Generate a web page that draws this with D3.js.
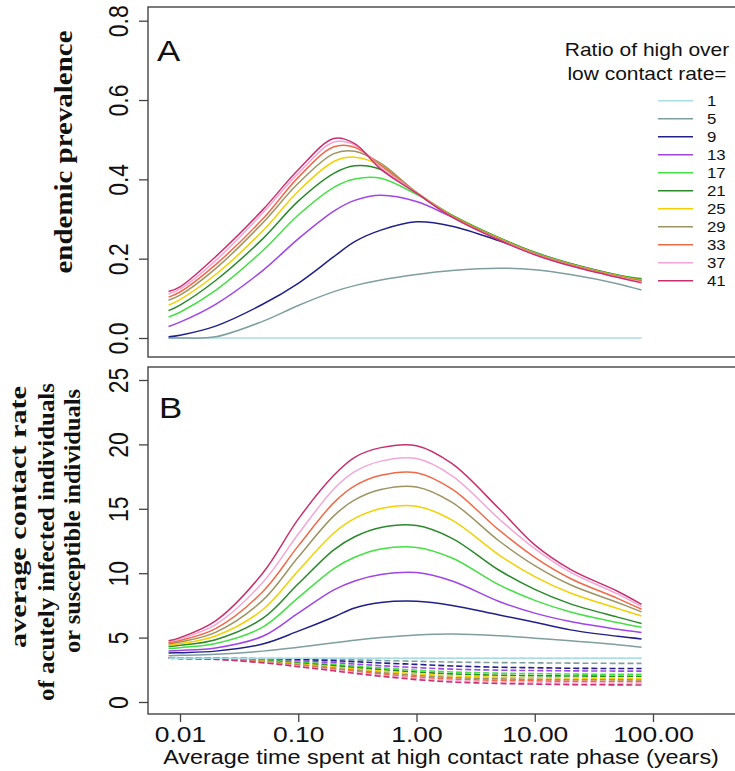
<!DOCTYPE html>
<html>
<head>
<meta charset="utf-8">
<script src="https://cdn.jsdelivr.net/npm/d3@7"></script>
<style>
  body { margin: 0; background: #fff; }
  text { font-family: "Liberation Sans", Arial, sans-serif; fill: #111; }
  .serif { font-family: "Liberation Serif", "Times New Roman", serif; font-weight: bold; }
</style>
</head>
<body>
<div id="chart"></div>
<script>
// time spent in the high contact phase (years)
const times = [0.008, 0.01, 0.02, 0.05, 0.1, 0.2, 0.3, 0.5, 1, 2, 5, 10, 20, 50, 80]
const ratios = [1, 5, 9, 13, 17, 21, 25, 29, 33, 37, 41]

// panel A: endemic prevalence, one row per ratio
const prevalence = [
  [0, 0, 0, 0, 0, 0, 0, 0, 0, 0, 0, 0, 0, 0, 0],
  [0, 0, 0.003, 0.042, 0.082, 0.117, 0.132, 0.146, 0.16, 0.17, 0.176, 0.172, 0.16, 0.137, 0.121],
  [0.003, 0.007, 0.03, 0.085, 0.138, 0.205, 0.243, 0.272, 0.293, 0.282, 0.245, 0.212, 0.186, 0.157, 0.144],
  [0.029, 0.04, 0.085, 0.17, 0.25, 0.32, 0.347, 0.36, 0.344, 0.305, 0.252, 0.216, 0.188, 0.159, 0.147],
  [0.053, 0.065, 0.12, 0.22, 0.31, 0.38, 0.401, 0.403, 0.362, 0.31, 0.253, 0.216, 0.188, 0.159, 0.15],
  [0.069, 0.083, 0.145, 0.25, 0.345, 0.415, 0.434, 0.425, 0.366, 0.309, 0.252, 0.215, 0.187, 0.158, 0.148],
  [0.083, 0.097, 0.16, 0.27, 0.37, 0.445, 0.456, 0.435, 0.367, 0.308, 0.251, 0.214, 0.186, 0.157, 0.146],
  [0.095, 0.108, 0.175, 0.29, 0.39, 0.465, 0.471, 0.44, 0.367, 0.307, 0.25, 0.213, 0.185, 0.156, 0.145],
  [0.103, 0.116, 0.185, 0.30, 0.405, 0.482, 0.481, 0.435, 0.366, 0.306, 0.249, 0.212, 0.184, 0.155, 0.143],
  [0.111, 0.123, 0.195, 0.315, 0.415, 0.494, 0.487, 0.43, 0.366, 0.305, 0.248, 0.211, 0.183, 0.154, 0.141],
  [0.117, 0.129, 0.205, 0.323, 0.424, 0.503, 0.49, 0.425, 0.365, 0.305, 0.247, 0.21, 0.182, 0.153, 0.139],
]

// panel B solid: acutely infected individuals
const contactInfected = [
  [3.4, 3.4, 3.4, 3.4, 3.4, 3.4, 3.4, 3.4, 3.4, 3.4, 3.4, 3.4, 3.4, 3.4, 3.4],
  [3.6, 3.62, 3.7, 3.95, 4.25, 4.6, 4.8, 5.0, 5.2, 5.28, 5.15, 4.95, 4.75, 4.45, 4.25],
  [3.8, 3.83, 3.95, 4.5, 5.5, 6.6, 7.3, 7.72, 7.82, 7.5, 6.75, 6.2, 5.6, 5.1, 4.9],
  [3.95, 4.0, 4.2, 5.1, 6.9, 8.7, 9.4, 9.9, 10.05, 9.4, 7.8, 6.9, 6.25, 5.65, 5.4],
  [4.15, 4.22, 4.54, 5.81, 8.1, 10.36, 11.24, 11.88, 12.0, 11.18, 9.09, 7.89, 6.99, 6.17, 5.8],
  [4.3, 4.4, 4.84, 6.49, 9.18, 11.81, 12.83, 13.55, 13.7, 12.71, 10.23, 8.74, 7.62, 6.59, 6.1],
  [4.4, 4.52, 5.12, 7.16, 10.19, 13.12, 14.25, 15.02, 15.2, 14.12, 11.41, 9.73, 8.46, 7.27, 6.68],
  [4.5, 4.66, 5.41, 7.89, 11.25, 14.45, 15.69, 16.5, 16.7, 15.5, 12.5, 10.59, 9.1, 7.73, 7.0],
  [4.6, 4.78, 5.7, 8.56, 12.12, 15.48, 16.78, 17.6, 17.8, 16.52, 13.34, 11.23, 9.59, 8.05, 7.2],
  [4.7, 4.91, 6.01, 9.27, 13.04, 16.54, 17.88, 18.7, 18.9, 17.56, 14.21, 11.91, 10.08, 8.39, 7.4],
  [4.75, 5.0, 6.3, 10.0, 14.2, 17.6, 19.0, 19.75, 19.9, 18.5, 15.0, 12.2, 10.3, 8.6, 7.58],
]

// panel B dashed: susceptible individuals
const contactSusceptible = [
  [3.4, 3.4, 3.4, 3.4, 3.4, 3.4, 3.4, 3.4, 3.4, 3.4, 3.4, 3.4, 3.4, 3.4, 3.4],
  [3.4, 3.4, 3.4, 3.38, 3.35, 3.3, 3.27, 3.22, 3.16, 3.1, 3.06, 3.04, 3.02, 3.0, 3.0],
  [3.4, 3.4, 3.39, 3.35, 3.3, 3.2, 3.13, 3.03, 2.92, 2.8, 2.7, 2.66, 2.62, 2.6, 2.6],
  [3.4, 3.4, 3.38, 3.3, 3.2, 3.05, 2.95, 2.82, 2.67, 2.55, 2.47, 2.44, 2.42, 2.4, 2.4],
  [3.4, 3.4, 3.37, 3.26, 3.1, 2.92, 2.8, 2.65, 2.47, 2.33, 2.24, 2.2, 2.17, 2.15, 2.15],
  [3.4, 3.39, 3.36, 3.22, 3.03, 2.82, 2.68, 2.52, 2.33, 2.18, 2.08, 2.04, 2.02, 2.0, 2.0],
  [3.4, 3.39, 3.35, 3.18, 2.96, 2.72, 2.57, 2.4, 2.19, 2.03, 1.93, 1.89, 1.86, 1.85, 1.84],
  [3.4, 3.39, 3.34, 3.14, 2.9, 2.63, 2.47, 2.28, 2.07, 1.9, 1.8, 1.76, 1.73, 1.72, 1.71],
  [3.4, 3.39, 3.33, 3.11, 2.84, 2.55, 2.38, 2.18, 1.95, 1.78, 1.68, 1.64, 1.61, 1.59, 1.58],
  [3.4, 3.38, 3.32, 3.08, 2.79, 2.48, 2.3, 2.08, 1.84, 1.66, 1.56, 1.51, 1.48, 1.46, 1.45],
  [3.4, 3.38, 3.31, 3.05, 2.74, 2.42, 2.22, 2.0, 1.74, 1.55, 1.44, 1.39, 1.35, 1.33, 1.32],
]

const xTicks = [0.01, 0.1, 1, 10, 100]
const xTickLabels = ["0.01", "0.10", "1.00", "10.00", "100.00"]
const yTicksA = [0, 0.2, 0.4, 0.6, 0.8]
const yTicksB = [0, 5, 10, 15, 20, 25]

const colors = ["#a9dde6", "#7f9e9e", "#202088", "#a044e6", "#44e044", "#2a8a2a",
  "#f4d000", "#9c9462", "#f06a48", "#f4a6d6", "#c8306e"]

const width = 735
const height = 771
const stretch = 1.2 // the reference text is drawn a bit wide

const svg = d3.select("#chart")
  .append("svg")
  .attr("width", width)
  .attr("height", height)

const x = d3.scaleLog().domain([0.01, 100]).range([180, 653])
const yA = d3.scaleLinear().domain([0, 0.8]).range([338, 20.7])
const yB = d3.scaleLinear().domain([0, 25]).range([702, 380])

const panels = [
  { y: yA, top: 7, bottom: 357, ticks: yTicksA, fmt: d3.format(".1f"), label: "A", labelY: 61 },
  { y: yB, top: 367, bottom: 714, ticks: yTicksB, fmt: d3.format("d"), label: "B", labelY: 418 },
]

panels.forEach(p => {
  svg.append("rect")
    .attr("x", 148).attr("y", p.top)
    .attr("width", 620).attr("height", p.bottom - p.top)
    .attr("fill", "none").attr("stroke", "#444").attr("stroke-width", 1.4)

  const ax = svg.append("g")
    .attr("transform", "translate(148,0)")
    .call(d3.axisLeft(p.y).tickValues(p.ticks).tickSize(9).tickFormat(p.fmt))
  ax.select(".domain").remove()
  ax.selectAll("line").attr("stroke", "#444").attr("stroke-width", 1.3)
  ax.selectAll("text")
    .attr("x", null).attr("dy", null)
    .attr("text-anchor", "middle")
    .attr("transform", `translate(-20,0) scale(${stretch},1) rotate(-90)`)
    .style("font-size", "23px")
    .attr("fill", "#222")

  svg.append("text")
    .attr("transform", `translate(${p.label === "A" ? 157 : 159},${p.labelY}) scale(${stretch},1)`)
    .style("font-size", "29px")
    .text(p.label)
})

// x axis
const xAx = svg.append("g")
  .attr("transform", "translate(0,714)")
  .call(d3.axisBottom(x).tickValues(xTicks).tickSize(8).tickFormat((d, i) => xTickLabels[i]))
xAx.select(".domain").remove()
xAx.selectAll("line").attr("stroke", "#444").attr("stroke-width", 1.3)
xAx.selectAll("text")
  .attr("y", null).attr("dy", null)
  .attr("transform", `translate(0,28) scale(${stretch},1)`)
  .style("font-size", "22px")
  .attr("fill", "#222")

svg.append("text")
  .attr("transform", `translate(441,764) scale(${stretch},1)`)
  .attr("text-anchor", "middle")
  .style("font-size", "19.5px")
  .text("Average time spent at high contact rate phase (years)")

// y titles
svg.append("text")
  .attr("class", "serif")
  .attr("transform", "translate(72,152) rotate(-90)")
  .attr("text-anchor", "middle")
  .attr("textLength", 243).attr("lengthAdjust", "spacingAndGlyphs")
  .style("font-size", "26px")
  .text("endemic prevalence")

const titleB = [
  { t: "average contact rate", x: 26, c: 517, len: 262 },
  { t: "of acutely infected individuals", x: 54, c: 542, len: 318 },
  { t: "or susceptible individuals", x: 80, c: 521, len: 264 },
]
svg.selectAll("text.tb")
  .data(titleB)
  .join("text")
  .attr("class", "tb serif")
  .attr("transform", d => `translate(${d.x},${d.c}) rotate(-90)`)
  .attr("text-anchor", "middle")
  .attr("textLength", d => d.len).attr("lengthAdjust", "spacingAndGlyphs")
  .style("font-size", "24px")
  .text(d => d.t)

// series
const curve = d3.curveCatmullRom.alpha(0.5)
const lineA = d3.line().x((d, i) => x(times[i])).y(d => yA(d)).curve(curve)
const lineB = d3.line().x((d, i) => x(times[i])).y(d => yB(d)).curve(curve)

svg.selectAll("path.prev")
  .data(prevalence)
  .join("path")
  .attr("class", "prev")
  .attr("d", d => lineA(d))
  .attr("fill", "none")
  .attr("stroke", (d, i) => colors[i])
  .attr("stroke-width", 1.5)

svg.selectAll("path.sus")
  .data(contactSusceptible)
  .join("path")
  .attr("class", "sus")
  .attr("d", d => lineB(d))
  .attr("fill", "none")
  .attr("stroke", (d, i) => colors[i])
  .attr("stroke-width", 1.6)
  .attr("stroke-dasharray", "6,3")

svg.selectAll("path.inf")
  .data(contactInfected)
  .join("path")
  .attr("class", "inf")
  .attr("d", d => lineB(d))
  .attr("fill", "none")
  .attr("stroke", (d, i) => colors[i])
  .attr("stroke-width", 1.5)

// legend
const legend = svg.append("g")
legend.selectAll("text.title")
  .data(["Ratio of high over", "low contact rate="])
  .join("text")
  .attr("class", "title")
  .attr("transform", (d, i) => `translate(647,${56 + i * 24}) scale(${stretch},1)`)
  .attr("text-anchor", "middle")
  .style("font-size", "17.5px")
  .text(d => d)

const rows = legend.selectAll("g.row")
  .data(ratios)
  .join("g")
  .attr("class", "row")
  .attr("transform", (d, i) => `translate(0,${100.7 + i * 18})`)
rows.append("line")
  .attr("x1", 658).attr("x2", 693)
  .attr("stroke", (d, i) => colors[i])
  .attr("stroke-width", 1.6)
rows.append("text")
  .attr("transform", `translate(707,5) scale(${stretch},1)`)
  .style("font-size", "14px")
  .text(d => d)
</script>
</body>
</html>
